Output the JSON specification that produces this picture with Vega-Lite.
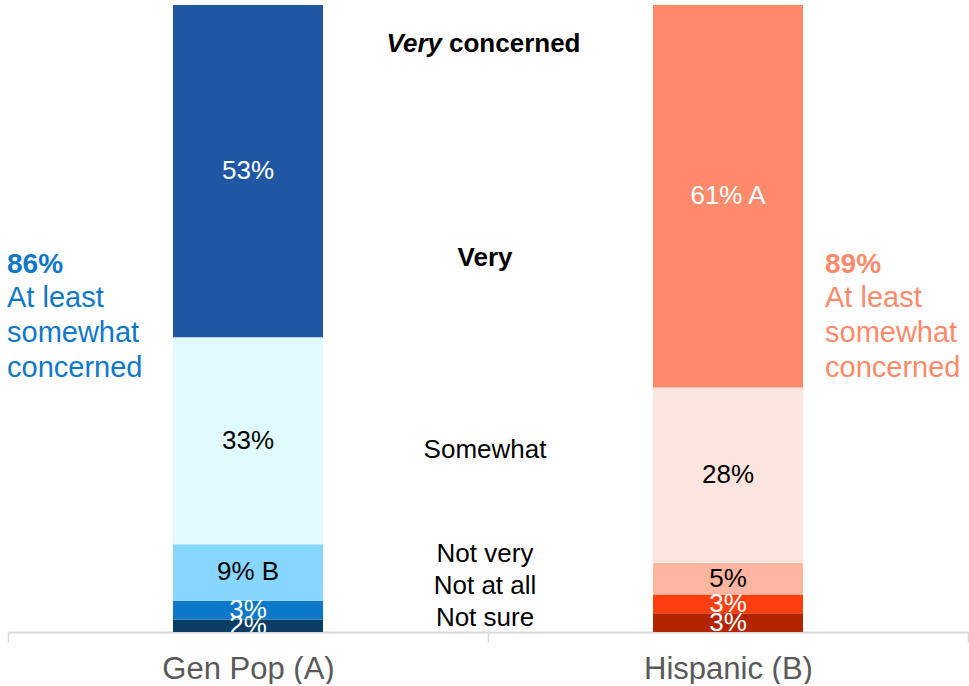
{
  "$schema": "https://vega.github.io/schema/vega-lite/v6.json",
  "width": 960,
  "height": 627,
  "padding": {"left": 7, "top": 5, "right": 0, "bottom": 0},
  "background": "white",
  "config": {
    "view": {"stroke": null},
    "font": "Liberation Sans",
    "text": {"font": "Liberation Sans"}
  },
  "datasets": {
    "bars": [
      {"group": "Gen Pop (A)", "response": "Not sure", "segment": "Gen Pop – Not sure", "order": 1, "value": 2, "label": "2%"},
      {"group": "Gen Pop (A)", "response": "Not at all", "segment": "Gen Pop – Not at all", "order": 2, "value": 3, "label": "3%"},
      {"group": "Gen Pop (A)", "response": "Not very", "segment": "Gen Pop – Not very", "order": 3, "value": 9, "label": "9% B"},
      {"group": "Gen Pop (A)", "response": "Somewhat", "segment": "Gen Pop – Somewhat", "order": 4, "value": 33, "label": "33%"},
      {"group": "Gen Pop (A)", "response": "Very", "segment": "Gen Pop – Very", "order": 5, "value": 53, "label": "53%"},
      {"group": "Hispanic (B)", "response": "Not sure", "segment": "Hispanic – Not sure", "order": 1, "value": 3, "label": "3%"},
      {"group": "Hispanic (B)", "response": "Not at all", "segment": "Hispanic – Not at all", "order": 2, "value": 3, "label": "3%"},
      {"group": "Hispanic (B)", "response": "Not very", "segment": "Hispanic – Not very", "order": 3, "value": 5, "label": "5%"},
      {"group": "Hispanic (B)", "response": "Somewhat", "segment": "Hispanic – Somewhat", "order": 4, "value": 28, "label": "28%"},
      {"group": "Hispanic (B)", "response": "Very", "segment": "Hispanic – Very", "order": 5, "value": 61, "label": "61% A"}
    ],
    "middle": [
      {"group": "Gen Pop (A)", "text": "Very", "pos": 59.6},
      {"group": "Gen Pop (A)", "text": "Somewhat", "pos": 29.0},
      {"group": "Gen Pop (A)", "text": "Not very", "pos": 12.4},
      {"group": "Gen Pop (A)", "text": "Not at all", "pos": 7.3},
      {"group": "Gen Pop (A)", "text": "Not sure", "pos": 2.2}
    ],
    "header": [
      {"group": "Gen Pop (A)", "part1": "Very", "part2": "concerned", "pos": 93.8}
    ],
    "notes": [
      {"group": "Gen Pop (A)", "headline": "86%", "body": "At least\nsomewhat\nconcerned", "pos": 58.5},
      {"group": "Hispanic (B)", "headline": "89%", "body": "At least\nsomewhat\nconcerned", "pos": 58.5}
    ]
  },
  "layer": [
    {
      "data": {"name": "bars"},
      "transform": [
        {"stack": "value", "groupby": ["group"], "sort": [{"field": "order", "order": "ascending"}], "as": ["y0", "y1"]}
      ],
      "mark": {"type": "bar", "size": 150},
      "encoding": {
        "x": {
          "field": "group", "type": "nominal",
          "scale": {"domain": ["Gen Pop (A)", "Hispanic (B)"], "paddingInner": 0, "paddingOuter": 0},
          "axis": {
            "title": null, "labelAngle": 0, "labelFontSize": 31, "labelColor": "#595959",
            "labelFont": "Liberation Sans", "labelPadding": 12,
            "domainColor": "#d9d9d9", "domainWidth": 2, "tickColor": "#d9d9d9", "tickWidth": 1.5,
            "tickSize": 10, "tickBand": "extent"
          }
        },
        "y": {"field": "y0", "type": "quantitative", "scale": {"domain": [0, 100], "nice": false}, "axis": null},
        "y2": {"field": "y1"},
        "color": {
          "field": "segment", "type": "nominal", "legend": null,
          "scale": {
            "domain": ["Gen Pop – Very", "Gen Pop – Somewhat", "Gen Pop – Not very", "Gen Pop – Not at all", "Gen Pop – Not sure",
                       "Hispanic – Very", "Hispanic – Somewhat", "Hispanic – Not very", "Hispanic – Not at all", "Hispanic – Not sure"],
            "range": ["#1f57a5", "#e0fbff", "#87d6ff", "#0b78c8", "#0a3d63",
                      "#ff8a6b", "#fde5df", "#ffb6a0", "#ff3d0f", "#b32500"]
          }
        }
      }
    },
    {
      "data": {"name": "bars"},
      "transform": [
        {"stack": "value", "groupby": ["group"], "sort": [{"field": "order", "order": "ascending"}], "as": ["y0", "y1"]},
        {"calculate": "(datum.y0 + datum.y1) / 2", "as": "mid"}
      ],
      "mark": {"type": "text", "fontSize": 26, "baseline": "middle", "align": "center", "clip": true},
      "encoding": {
        "x": {"field": "group", "type": "nominal"},
        "y": {"field": "mid", "type": "quantitative"},
        "text": {"field": "label"},
        "color": {
          "condition": {"test": "datum.response === 'Very' || datum.response === 'Not at all' || datum.response === 'Not sure'", "value": "white"},
          "value": "black"
        }
      }
    },
    {
      "data": {"name": "middle"},
      "transform": [{"filter": "datum.text !== 'Very'"}],
      "mark": {"type": "text", "fontSize": 26, "baseline": "middle", "align": "center", "dx": -3},
      "encoding": {
        "x": {"field": "group", "type": "nominal", "bandPosition": 1},
        "y": {"field": "pos", "type": "quantitative"},
        "text": {"field": "text"},
        "color": {"value": "black"}
      }
    },
    {
      "data": {"name": "middle"},
      "transform": [{"filter": "datum.text === 'Very'"}],
      "mark": {"type": "text", "fontSize": 26, "baseline": "middle", "align": "center", "fontWeight": "bold", "dx": -3},
      "encoding": {
        "x": {"field": "group", "type": "nominal", "bandPosition": 1},
        "y": {"field": "pos", "type": "quantitative"},
        "text": {"field": "text"},
        "color": {"value": "black"}
      }
    },
    {
      "data": {"name": "header"},
      "mark": {"type": "text", "fontSize": 26, "baseline": "middle", "align": "right", "fontWeight": "bold", "fontStyle": "italic", "dx": -46},
      "encoding": {
        "x": {"field": "group", "type": "nominal", "bandPosition": 1},
        "y": {"field": "pos", "type": "quantitative"},
        "text": {"field": "part1"},
        "color": {"value": "black"}
      }
    },
    {
      "data": {"name": "header"},
      "mark": {"type": "text", "fontSize": 26, "baseline": "middle", "align": "left", "fontWeight": "bold", "dx": -39},
      "encoding": {
        "x": {"field": "group", "type": "nominal", "bandPosition": 1},
        "y": {"field": "pos", "type": "quantitative"},
        "text": {"field": "part2"},
        "color": {"value": "black"}
      }
    },
    {
      "data": {"name": "notes"},
      "transform": [{"filter": "datum.group === 'Gen Pop (A)'"}],
      "mark": {"type": "text", "fontSize": 28, "baseline": "middle", "align": "left", "fontWeight": "bold", "dx": -1},
      "encoding": {
        "x": {"field": "group", "type": "nominal", "bandPosition": 0},
        "y": {"field": "pos", "type": "quantitative"},
        "text": {"field": "headline"},
        "color": {"value": "#0f78c9"}
      }
    },
    {
      "data": {"name": "notes"},
      "transform": [{"filter": "datum.group === 'Gen Pop (A)'"}],
      "mark": {"type": "text", "fontSize": 29, "baseline": "top", "align": "left", "lineBreak": "\n", "lineHeight": 35, "dx": -1, "dy": 19},
      "encoding": {
        "x": {"field": "group", "type": "nominal", "bandPosition": 0},
        "y": {"field": "pos", "type": "quantitative"},
        "text": {"field": "body"},
        "color": {"value": "#0f78c9"}
      }
    },
    {
      "data": {"name": "notes"},
      "transform": [{"filter": "datum.group === 'Hispanic (B)'"}],
      "mark": {"type": "text", "fontSize": 28, "baseline": "middle", "align": "left", "fontWeight": "bold", "dx": 97},
      "encoding": {
        "x": {"field": "group", "type": "nominal"},
        "y": {"field": "pos", "type": "quantitative"},
        "text": {"field": "headline"},
        "color": {"value": "#ff8a6b"}
      }
    },
    {
      "data": {"name": "notes"},
      "transform": [{"filter": "datum.group === 'Hispanic (B)'"}],
      "mark": {"type": "text", "fontSize": 29, "baseline": "top", "align": "left", "lineBreak": "\n", "lineHeight": 35, "dx": 97, "dy": 19},
      "encoding": {
        "x": {"field": "group", "type": "nominal"},
        "y": {"field": "pos", "type": "quantitative"},
        "text": {"field": "body"},
        "color": {"value": "#ff8a6b"}
      }
    }
  ]
}
